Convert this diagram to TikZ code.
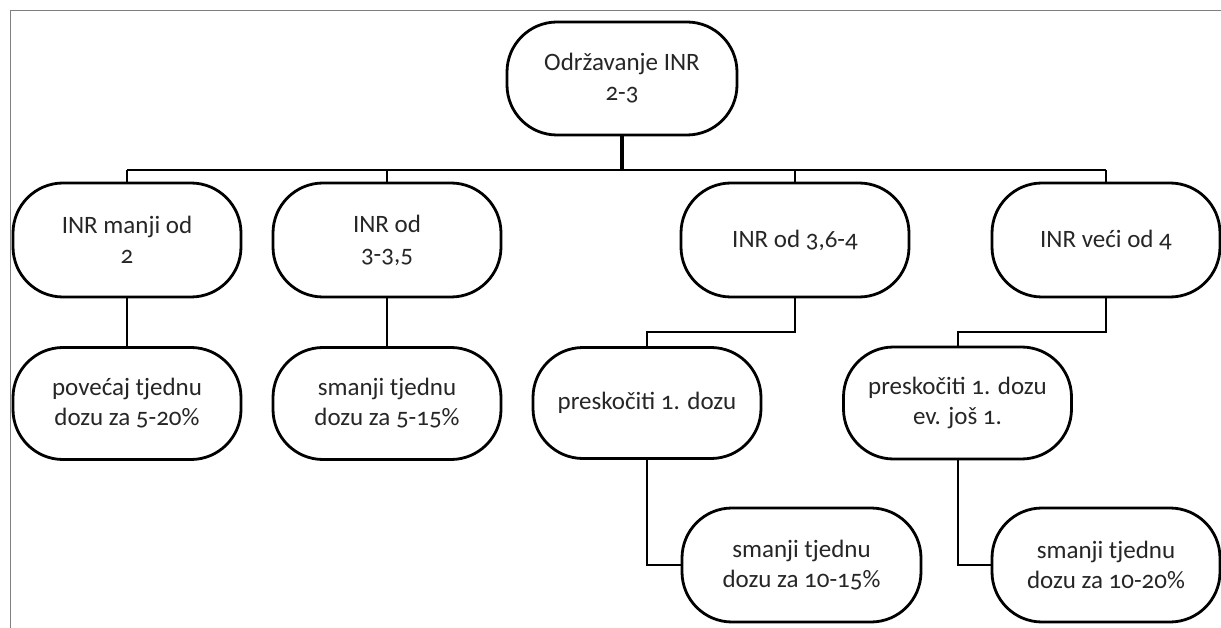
\documentclass[tikz,border=0pt]{standalone}
\usepackage{fontspec}
\setmainfont{Carlito}[Numbers=OldStyle]
\begin{document}
\begin{tikzpicture}[x=1pt,y=-1pt,
  box/.style={draw=black,line width=2.8pt,rounded corners=50pt,align=center,
    inner sep=0pt,minimum width=228pt,minimum height=114pt,
    font=\fontsize{25}{30}\selectfont,text=black!85},
  conn/.style={draw=black,line width=2pt},
  busthick/.style={draw=black,line width=2.6pt}]
\useasboundingbox (0,0) rectangle (1221,628);
\fill[white] (0,0) rectangle (1221,628);
\draw[gray,line width=1pt] (1221,11) -- (10,11) -- (10,628);
% nodes
\node[box,minimum width=230pt,minimum height=113pt] (top) at (622,78.5) {Održavanje INR\\2-3};
\node[box] (a1) at (127,240) {INR manji od\\2};
\node[box] (a2) at (387,240) {INR od\\3-3,5};
\node[box] (a3) at (795,240) {INR od 3,6-4};
\node[box] (a4) at (1106,240) {INR veći od 4};
\node[box,minimum height=112pt] (b1) at (127,403.5) {povećaj tjednu\\dozu za 5-20\%};
\node[box,minimum height=112pt] (b2) at (387,403.5) {smanji tjednu\\dozu za 5-15\%};
\node[box,minimum height=111pt] (b3) at (647,403) {preskočiti 1. dozu};
\node[box,minimum height=112pt] (b4) at (957.5,403) {preskočiti 1. dozu\\ev. još 1.};
\node[box,minimum width=239pt] (c3) at (801.5,565) {smanji tjednu\\dozu za 10-15\%};
\node[box] (c4) at (1106,565) {smanji tjednu\\dozu za 10-20\%};
% junction points
\coordinate (bus) at (622,170);
\coordinate (j3) at (647,332.5);
\coordinate (j4) at (957.5,332.5);
% connectors
\draw[line width=4.5pt] (top.south) -- (bus);
\draw[busthick] (a1.north |- bus) -- (a3.north |- bus);
\draw[conn] (a3.north |- bus) -- (a4.north |- bus);
\draw[conn] (a1.north |- bus) -- (a1.north);
\draw[conn] (a2.north |- bus) -- (a2.north);
\draw[conn] (a3.north |- bus) -- (a3.north);
\draw[conn] (a4.north |- bus) -- (a4.north);
\draw[line width=2.6pt] (a1.south) -- (b1.north);
\draw[conn] (a2.south) -- (b2.north);
\draw[conn] (a3.south) |- (j3) -- (j3 |- b3.north);
\draw[conn] (a4.south) |- (j4) -- (j4 |- b4.north);
\draw[conn] (j3 |- b3.south) |- (c3.west);
\draw[conn] (j4 |- b4.south) |- (c4.west);
\end{tikzpicture}
\end{document}
